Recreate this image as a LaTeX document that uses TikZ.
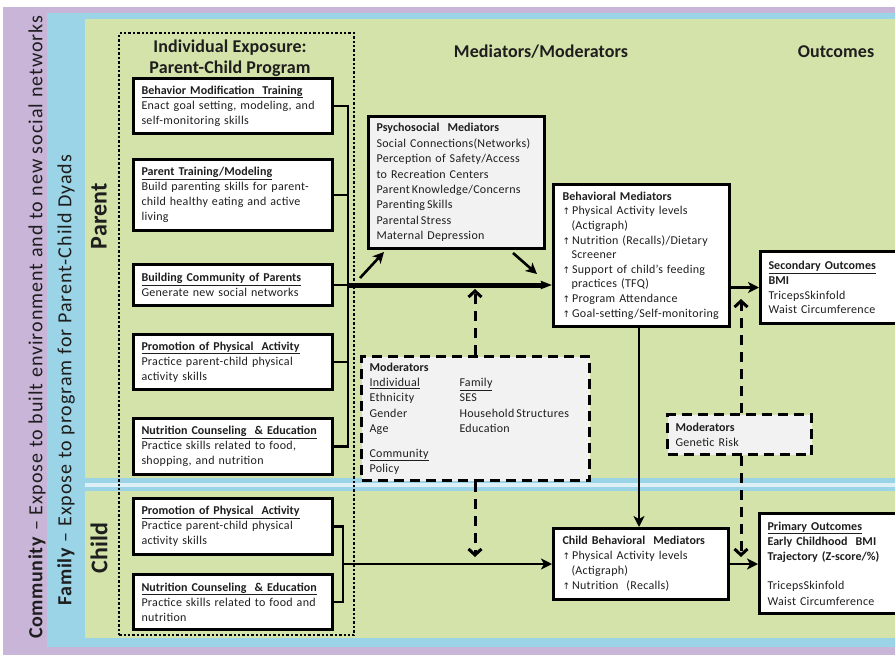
\documentclass[tikz,border=0pt]{standalone}
\usepackage{fontspec}
\setmainfont{Carlito}[LetterSpace=2.5, BoldFeatures={LetterSpace=0.5}]
\newfontfamily\sidefont{Carlito}[LetterSpace=5, BoldFeatures={LetterSpace=3}]
\newfontfamily\symfont{DejaVu Sans}
\usetikzlibrary{arrows.meta}
\definecolor{purp}{HTML}{C8B5D8}
\definecolor{fblue}{HTML}{9AD4E6}
\definecolor{fgreen}{HTML}{D4E3A9}
\definecolor{boxgray}{HTML}{F2F2F2}
\definecolor{txt}{HTML}{1E1E1E}
\newcommand\upar{{\symfont\fontsize{9}{9}\selectfont ↑}\,}
\newcommand\ind{\hspace*{9pt}}
\begin{document}
\begin{tikzpicture}[x=1pt,y=-1pt,
  box/.style={draw=black, line width=3pt, fill=white, anchor=north west, align=left,
    inner xsep=8pt, inner ysep=3pt, font=\fontsize{12}{15}\selectfont, text=txt},
  graybox/.style={box, fill=boxgray},
  dbox/.style={graybox, dash pattern=on 10pt off 6pt},
  conn/.style={line width=2.6pt},
  arr/.style={line width=2.6pt, -{Stealth[length=11pt,width=11pt,inset=3pt]}},
  thickarr/.style={line width=5pt, -{Stealth[length=11pt,width=8pt,inset=1pt]}},
  darr/.style={line width=3pt, dash pattern=on 10pt off 7pt, -{Straight Barb[length=6pt,width=13pt]}},
  heading/.style={font=\fontsize{18}{21}\bfseries\selectfont, text=txt, align=center},
  side/.style={rotate=90, font=\sidefont\fontsize{20}{22}\selectfont, text=txt},
  who/.style={rotate=90, font=\fontsize{24}{26}\bfseries\selectfont, text=txt},
]
\useasboundingbox (0,0) rectangle (895,654);
% background bands
\fill[white] (0,0) rectangle (895,654);
\fill[purp] (3,7) rectangle (900,660);
\fill[fblue] (47,13) rectangle (900,647);
\fill[fgreen] (85,19) rectangle (900,478);
\fill[fgreen] (85,491) rectangle (900,638);
\fill[white!65!fblue] (85,483) rectangle (900,487);

% side labels
\node[side] (comm) at (37,327) {\textbf{Community} – Expose to built environment and to new social networks};
\node[side] (fam) at (66,380) {\textbf{Family} – Expose to program for Parent-Child Dyads};
\node[who] (par) at (99,216) {Parent};
\node[who] (chi) at (99,548) {Child};

% individual exposure dotted frame
\node[draw=black, line width=2.4pt, dash pattern=on 2.4pt off 2pt, anchor=north west,
  minimum width=235pt, minimum height=602pt, inner sep=0pt] (indiv) at (118,32) {};

% headings
\node[heading] (h1) at (230,58) {Individual Exposure:\\Parent-Child Program};
\node[heading] (h2) at (541,52) {Mediators/Moderators};
\node[heading] (h3) at (836,52) {Outcomes};

% parent program boxes
\node[box, text width=183pt, minimum height=55pt] (b1) at (132,77)
  {\underline{\textbf{Behavior Modification\ \ Training}}\\Enact goal setting, modeling, and\\self-monitoring skills};
\node[box, text width=183pt, minimum height=71pt] (b2) at (132,158)
  {\underline{\textbf{Parent Training/Modeling}}\\Build parenting skills for parent-\\child healthy eating and active\\living};
\node[box, text width=183pt, minimum height=41pt] (b3) at (132,263)
  {\underline{\textbf{Building Community of Parents}}\\Generate new social networks};
\node[box, text width=183pt, minimum height=55pt] (b4) at (132,333)
  {\underline{\textbf{Promotion of Physical\ \ Activity}}\\Practice parent-child physical\\activity skills};
\node[box, text width=183pt, minimum height=56pt] (b5) at (132,417)
  {\underline{\textbf{Nutrition Counseling\ \ \& Education}}\\Practice skills related to food,\\shopping, and nutrition};
% child program boxes
\node[box, text width=183pt, minimum height=56pt] (b6) at (132,497)
  {\underline{\textbf{Promotion of Physical\ \ Activity}}\\Practice parent-child physical\\activity skills};
\node[box, text width=183pt, minimum height=55pt] (b7) at (132,573)
  {\underline{\textbf{Nutrition Counseling\ \ \& Education}}\\Practice skills related to food and\\nutrition};

% mediators
\node[graybox, text width=160pt, minimum height=132pt, font=\fontsize{12}{15.4}\selectfont] (psy) at (367,115)
  {\textbf{Psychosocial\ \ Mediators}\\Social Connections(Networks)\\Perception of Safety/Access\\to Recreation Centers\\Parent\,Knowledge/Concerns\\Parenting\,Skills\\Parental\,Stress\\Maternal Depression};
\node[box, inner xsep=9pt, text width=158pt, minimum height=142pt, font=\fontsize{12}{14.6}\selectfont] (beh) at (552,183)
  {\textbf{Behavioral Mediators}\\\upar Physical Activity levels\\\ind(Actigraph)\\\upar Nutrition (Recalls)/Dietary\\\ind Screener\\\upar Support of child's feeding\\\ind practices (TFQ)\\\upar Program Attendance\\\upar Goal-setting/Self-monitoring};
\node[box, inner xsep=9pt, text width=157pt, minimum height=71pt] (cbeh) at (552,527)
  {\textbf{Child Behavioral\ \ Mediators}\\\upar Physical Activity levels\\\ind(Actigraph)\\\upar Nutrition\ \ (Recalls)};

% moderators
\node[dbox, text width=212pt, minimum height=124pt, font=\fontsize{12}{15.4}\selectfont] (mod) at (360,355)
  {\textbf{Moderators}\\\makebox[90pt][l]{\underline{Individual}}\underline{Family}\\
   \makebox[90pt][l]{Ethnicity}SES\\\makebox[90pt][l]{Gender}Household\,Structures\\
   \makebox[90pt][l]{Age}Education\\[9pt]\underline{Community}\\Policy};
\node[dbox, text width=128pt, minimum height=40pt] (gen) at (666,413)
  {\textbf{Moderators}\\Genetic Risk};

% outcomes
\node[box, text width=150pt, minimum height=72pt, font=\fontsize{12}{14.7}\selectfont] (sec) at (759,250)
  {\underline{\textbf{Secondary Outcomes}}\\\textbf{BMI}\\TricepsSkinfold\\Waist Circumference};
\node[box, text width=150pt, minimum height=100pt, font=\fontsize{12}{15.3}\selectfont] (prim) at (758,512)
  {\underline{\textbf{Primary Outcomes}}\\\textbf{Early Childhood\ \ BMI}\\\textbf{Trajectory (Z-score/\%)}\\[14pt]TricepsSkinfold\\Waist Circumference};

% coordinates
\coordinate (pbar) at (348,0);
\coordinate (cbar) at (343,0);
\coordinate (vx) at (639,0);
\coordinate (mx) at (475,0);
\coordinate (gx) at (741,0);
\coordinate (pa1s) at (360,278);
\coordinate (pa1e) at (384,252);
\coordinate (pa2s) at (513,253);
\coordinate (pa2e) at (537,274);
\coordinate (mt1) at (475,289);
\coordinate (mt2) at (475,557);
\coordinate (gt1) at (741,299);
\coordinate (gt2) at (741,557);

% parent connectors
\draw[conn] (b1.east) -- (b1.east -| pbar) -- (b5.east -| pbar) -- (b5.east);
\draw[conn] (b2.east) -- (b2.east -| pbar);
\draw[conn] (b3.east) -- (b3.east -| pbar);
\draw[conn] (b4.east) -- (b4.east -| pbar);
\draw[thickarr] (b3.east -| pbar) -- (b3.east -| beh.west);
\draw[arr] (pa1s) -- (pa1e);
\draw[arr] (pa2s) -- (pa2e);

% child connectors
\draw[conn] (b6.east) -- (b6.east -| cbar) -- (b7.east -| cbar) -- (b7.east);
\draw[arr] (cbeh.west -| cbar) -- (cbeh.west);

% mediators to outcomes
\draw[arr] (beh.south -| vx) -- (cbeh.north -| vx);
\draw[arr] (sec.west -| beh.east) -- (sec.west);
\draw[arr] (cbeh.east) -- (cbeh.east -| prim.west);

% moderator dashed arrows
\draw[darr] (mod.north -| mx) -- (mt1);
\draw[darr] (mod.south -| mx) -- (mt2);
\draw[darr] (gen.north -| gx) -- (gt1);
\draw[darr] (gen.south -| gx) -- (gt2);
\end{tikzpicture}
\end{document}
